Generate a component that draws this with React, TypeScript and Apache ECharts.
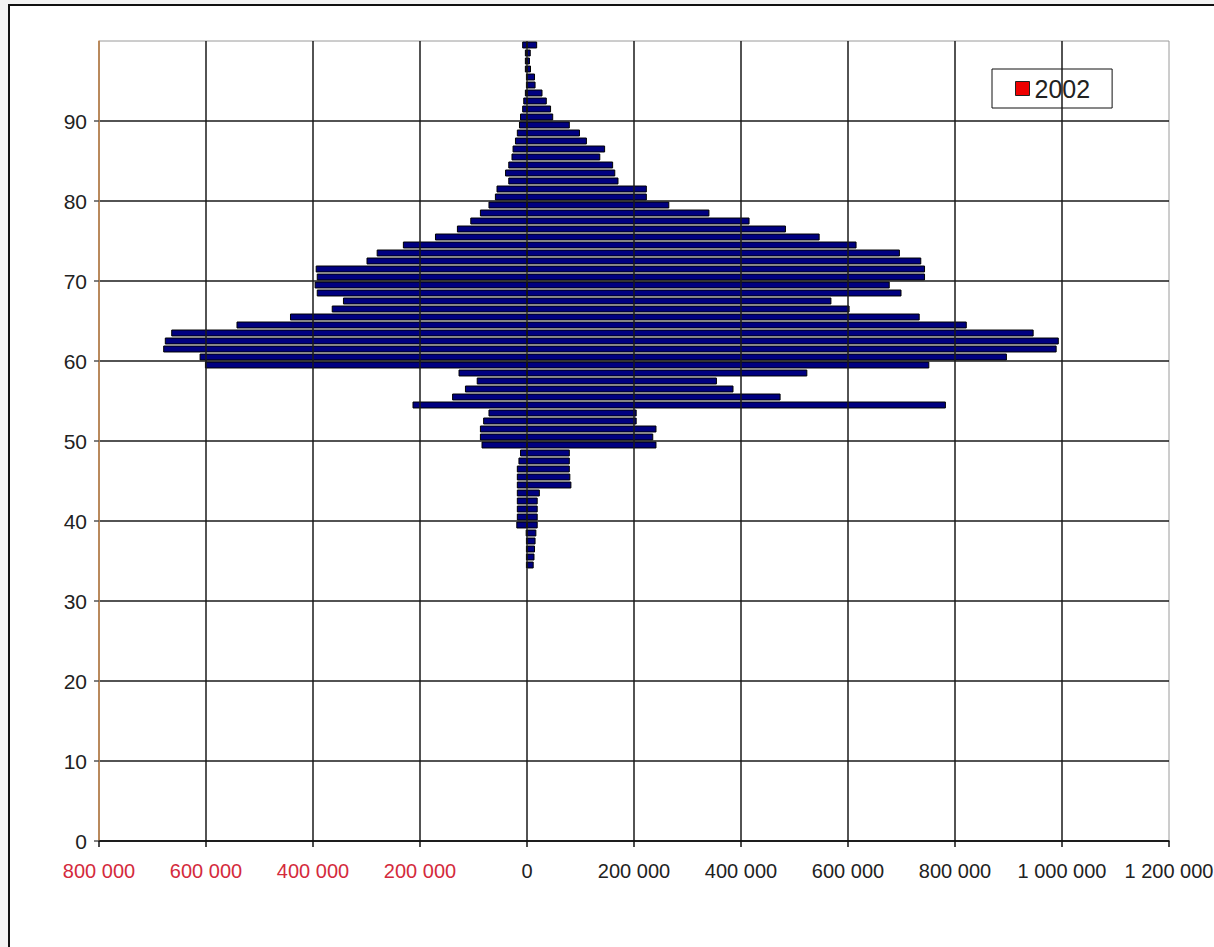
import React, { useEffect, useRef } from 'react';
import * as echarts from 'echarts';

// Ages shown (one bar per age)
const ages = [
  34, 35, 36, 37, 38, 39, 40, 41, 42, 43, 44, 45, 46, 47, 48, 49, 50, 51, 52, 53,
  54, 55, 56, 57, 58, 59, 60, 61, 62, 63, 64, 65, 66, 67, 68, 69, 70, 71, 72, 73,
  74, 75, 76, 77, 78, 79, 80, 81, 82, 83, 84, 85, 86, 87, 88, 89, 90, 91, 92, 93,
  94, 95, 96, 97, 98, 99,
];

// Extent to the left of zero (magnitudes)
const leftValues = [
  2000, 2000, 2000, 2000, 2500, 20000, 19000, 19000, 19000, 19000, 19000, 19000, 19000, 16000, 13000, 85000, 88000, 88000, 82000, 72000,
  214000, 140000, 116000, 94000, 128000, 602000, 612000, 680000, 677000, 665000, 543000, 443000, 365000, 344000, 393000, 397000, 393000, 395000, 300000, 281000,
  232000, 172000, 131000, 106000, 88000, 72000, 60000, 57000, 35000, 41000, 35000, 29000, 27000, 22500, 19000, 15000, 13000, 9000, 7000, 4000,
  2000, 2000, 4000, 4000, 4000, 9000,
];

// Extent to the right of zero
const rightValues = [
  12500, 14000, 15000, 16000, 17500, 20000, 20000, 20000, 20000, 24000, 83000, 81000, 80000, 80000, 80000, 242000, 236000, 242000, 205000, 205000,
  783000, 474000, 386000, 355000, 524000, 752000, 897000, 990000, 994000, 947000, 822000, 734000, 603000, 569000, 700000, 678000, 744000, 744000, 737000, 697000,
  616000, 547000, 484000, 416000, 341000, 266000, 224000, 224000, 171000, 165000, 161000, 137000, 146000, 112000, 99000, 80000, 49000, 45000, 37000, 29000,
  16000, 15000, 7500, 5500, 7000, 19000,
];

const seriesName = '2002';
const xMin = -800000;
const xMax = 1200000;
const xStep = 200000;
const yMin = 0;
const yMax = 100;
const yStep = 10;

const FONT = "'Liberation Sans', Arial, sans-serif";

function formatThousands(v: number): string {
  return Math.abs(v).toString().replace(/\B(?=(\d{3})+(?!\d))/g, ' ');
}

export default function App() {
  const ref = useRef<HTMLDivElement>(null);

  useEffect(() => {
    if (!ref.current) return;
    const chart = echarts.init(ref.current, null, { renderer: 'svg' });

    const categories: string[] = [];
    for (let a = yMin; a < yMax; a++) categories.push(String(a));
    const leftData: (number | null)[] = categories.map(() => null);
    const rightData: (number | null)[] = categories.map(() => null);
    ages.forEach((age, i) => {
      leftData[age] = -leftValues[i];
      rightData[age] = rightValues[i];
    });

    const barStyle = {
      color: '#000080',
      borderColor: '#000000',
      borderWidth: 1,
    };

    chart.setOption({
      animation: false,
      backgroundColor: 'transparent',
      textStyle: { fontFamily: FONT },
      grid: {
        left: 99,
        right: 45,
        top: 41,
        bottom: 106,
        containLabel: false,
        outerBoundsMode: 'none',
        show: true,
        borderColor: '#9a9a9a',
        borderWidth: 1,
        backgroundColor: 'transparent',
      },
      legend: {
        show: true,
        left: 992,
        top: 69,
        orient: 'horizontal',
        padding: [6, 22, 6, 23],
        backgroundColor: '#ffffff',
        borderColor: '#111111',
        borderWidth: 1,
        borderRadius: 0,
        itemWidth: 14,
        itemHeight: 14,
        icon: 'rect',
        selectedMode: false,
        textStyle: { fontSize: 25, color: '#222', fontFamily: FONT, lineHeight: 27 },
        data: [
          {
            name: seriesName,
            itemStyle: { color: '#ee0000', borderColor: '#222', borderWidth: 1 },
          },
        ],
      },
      xAxis: {
        type: 'value',
        min: xMin,
        max: xMax,
        interval: xStep,
        z: 5,
        axisLine: { show: true, onZero: false, lineStyle: { color: '#111', width: 1.5 } },
        axisTick: { show: true, length: 6, lineStyle: { color: '#111', width: 1.5 } },
        axisLabel: {
          margin: 20,
          fontSize: 20,
          fontFamily: FONT,
          showMaxLabel: true,
          showMinLabel: true,
          hideOverlap: false,
          formatter: (v: number) => formatThousands(v),
          color: (v: any) => (Number(v) < 0 ? '#d42a3c' : '#222222'),
        },
        splitLine: {
          show: true,
          showMaxLine: false,
          lineStyle: { color: '#1a1a1a', width: 1.5 },
        },
      },
      yAxis: [
        {
          type: 'category',
          data: categories,
          show: false,
          boundaryGap: true,
        },
        {
          type: 'value',
          min: yMin,
          max: yMax,
          interval: yStep,
          position: 'left',
          z: 5,
          axisLine: { show: true, onZero: false, lineStyle: { color: '#e0a064', width: 1.5 } },
          axisTick: { show: true, length: 5, lineStyle: { color: '#555', width: 1.5 } },
          axisLabel: {
            margin: 12,
            fontSize: 21,
            color: '#222',
            fontFamily: FONT,
            showMaxLabel: false,
          },
          splitLine: {
            show: true,
            showMaxLine: false,
            lineStyle: { color: '#1a1a1a', width: 1.5 },
          },
        },
      ],
      series: [
        {
          name: seriesName,
          type: 'bar',
          yAxisIndex: 0,
          stack: 'age',
          barWidth: '87%',
          data: leftData,
          itemStyle: barStyle,
          emphasis: { disabled: true },
        },
        {
          name: seriesName,
          type: 'bar',
          yAxisIndex: 0,
          stack: 'age',
          barWidth: '87%',
          data: rightData,
          itemStyle: barStyle,
          emphasis: { disabled: true },
        },
      ],
    });

    return () => chart.dispose();
  }, []);

  return (
    <div
      style={{
        position: 'absolute',
        left: 0,
        top: 0,
        width: 1214,
        height: 947,
        background: '#f3f3f3',
        overflow: 'hidden',
      }}
    >
      <div
        style={{
          position: 'absolute',
          left: 8,
          top: 4,
          width: 1300,
          height: 1100,
          borderLeft: '2px solid #111',
          borderTop: '2px solid #111',
          background: '#ffffff',
        }}
      />
      <div ref={ref} style={{ position: 'absolute', left: 0, top: 0, width: 1214, height: 947 }} />
    </div>
  );
}
